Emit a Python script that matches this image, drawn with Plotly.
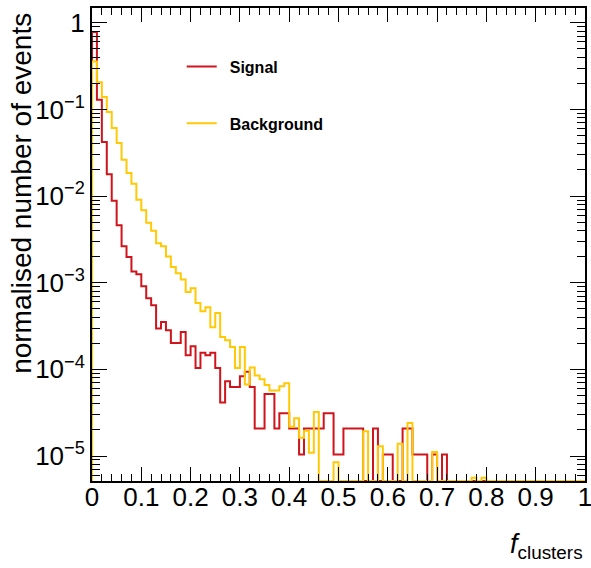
import numpy as np
import plotly.graph_objects as go

# 100 uniform bins on [0, 1]
bin_edges = np.linspace(0.0, 1.0, 101)

signal = [
    0.78, 0.129, 0.042, 0.0179, 0.00885, 0.00459, 0.00263, 0.00198, 0.00135, 0.00125,
    0.000908, 0.00066, 0.000548, 0.000296, 0.000352, 0.000282, 0.000202, 0.000202, 0.00027, 0.000146,
    0.000185, 0.000104, 0.000156, 0.000146, 0.000156, 0.000104, 4.16e-5, 7.28e-5, 6.24e-5, 6.24e-5,
    8.32e-5, 9.36e-5, 6.24e-5, 2.08e-5, 2.08e-5, 5.2e-5, 5.2e-5, 2.08e-5, 3.12e-5, 3.12e-5,
    2.08e-5, 2.08e-5, 1.04e-5, 2.08e-5, 2.08e-5, 2.08e-5, 2.08e-5, 3.12e-5, 3.12e-5, 1.04e-5,
    1.04e-5, 2.08e-5, 2.08e-5, 2.08e-5, 2.08e-5, 0, 0, 2.08e-5, 0, 1.04e-5,
    1.04e-5, 0, 0, 2.08e-5, 2.08e-5, 1.04e-5, 1.04e-5, 1.04e-5, 0, 1.04e-5,
    0, 1.04e-5, 0, 0, 0, 0, 0, 0, 0, 0,
    0, 0, 0, 0, 0, 0, 0, 0, 0, 0,
    0, 0, 0, 0, 0, 0, 0, 0, 0, 0,
]

background = [
    0.358, 0.206, 0.139, 0.0931, 0.0609, 0.0409, 0.0263, 0.0184, 0.0139, 0.00904,
    0.00684, 0.00493, 0.00399, 0.00285, 0.00263, 0.00201, 0.00152, 0.00129, 0.00109, 0.000782,
    0.000861, 0.000583, 0.000468, 0.00052, 0.000306, 0.000448, 0.000236, 0.000217, 0.000181, 0.000104,
    0.000181, 6.7e-5, 0.000105, 8.5e-5, 7.7e-5, 6.6e-5, 5.7e-5, 5.7e-5, 6.4e-5, 6.9e-5,
    2.17e-5, 2.73e-5, 1.63e-5, 1.96e-5, 1.09e-5, 3.23e-5, 0, 0, 0, 8.5e-6,
    0, 0, 0, 0, 0, 1.93e-5, 0, 0, 1.3e-5, 0,
    0, 0, 1.39e-5, 0, 2.41e-5, 0, 0, 0, 0, 1.11e-5,
    0, 0, 0, 0, 0, 0, 0, 5.6e-6, 0, 5.6e-6,
    0, 0, 0, 0, 0, 0, 0, 0, 0, 0,
    0, 0, 0, 0, 0, 0, 0, 0, 0, 0,
]

x_ticks = [0.0, 0.1, 0.2, 0.3, 0.4, 0.5, 0.6, 0.7, 0.8, 0.9, 1.0]
x_labels = ["0", "0.1", "0.2", "0.3", "0.4", "0.5", "0.6", "0.7", "0.8", "0.9", "1"]
y_ticks = [1e-5, 1e-4, 1e-3, 1e-2, 1e-1, 1.0]
y_labels = ["10<sup>\u22125</sup>", "10<sup>\u22124</sup>", "10<sup>\u22123</sup>",
            "10<sup>\u22122</sup>", "10<sup>\u22121</sup>", "1"]

Y_MIN = 5.15e-6
Y_MAX = 1.48
FONT = "Liberation Sans, Arial, sans-serif"
RED = "#d0141c"
GOLD = "#ffc905"


def step_outline(edges, values, floor):
    """Histogram outline: empty bins sit on the lower frame edge."""
    v = np.where(np.asarray(values, float) > 0, values, floor)
    xs = np.concatenate([[edges[0]], edges[:-1], [edges[-1], edges[-1]]])
    ys = np.concatenate([[floor], v, [v[-1], floor]])
    return xs, ys


fig = go.Figure()
for name, vals, col, grp in [("Signal", signal, RED, "s"), ("Background", background, GOLD, "b")]:
    xs, ys = step_outline(bin_edges, vals, Y_MIN)
    fig.add_trace(go.Scatter(
        x=xs, y=ys, mode="lines", name="\u2002<b>" + name + "</b>", legendgroup=grp,
        line=dict(color=col, width=2, shape="hv"),
    ))

minor_y = [k * 10.0 ** d for d in range(-6, 1) for k in range(2, 10)
           if Y_MIN < k * 10.0 ** d < Y_MAX]

fig.update_layout(
    width=591, height=568,
    margin=dict(l=92, r=6, t=8, b=87, autoexpand=False),
    paper_bgcolor="white", plot_bgcolor="white",
    font=dict(family=FONT, color="black"),
    showlegend=True,
    legend=dict(
        x=0.182, y=0.912, xanchor="left", yanchor="top",
        bgcolor="rgba(0,0,0,0)", borderwidth=0,
        font=dict(size=16, family=FONT),
        tracegroupgap=33,
    ),
    xaxis=dict(
        range=[0, 1], tickmode="array", tickvals=x_ticks, ticktext=x_labels,
        ticks="inside", ticklen=14, tickwidth=1, tickcolor="black",
        showline=True, linecolor="black", linewidth=2, mirror="ticks",
        showgrid=False, zeroline=False, automargin=False,
        ticklabeloverflow="allow",
        tickfont=dict(size=26, family=FONT), ticklabelstandoff=-8,
        minor=dict(ticks="inside", ticklen=7, tickwidth=1, tickcolor="black",
                   dtick=0.02, tick0=0, showgrid=False),
    ),
    yaxis=dict(
        type="log", range=[np.log10(Y_MIN), np.log10(Y_MAX)],
        tickmode="array", tickvals=y_ticks, ticktext=y_labels,
        ticks="inside", ticklen=15, tickwidth=1, tickcolor="black",
        showline=True, linecolor="black", linewidth=2, mirror="ticks",
        showgrid=False, zeroline=False, automargin=False,
        ticklabeloverflow="allow",
        tickfont=dict(size=26, family=FONT),
        minor=dict(ticks="inside", ticklen=8, tickwidth=1, tickcolor="black",
                   tickmode="array", tickvals=minor_y, showgrid=False),
    ),
    annotations=[
        dict(text="normalised number of events", textangle=-90,
             xref="paper", yref="paper", x=-0.142, y=0.995,
             xanchor="center", yanchor="top", showarrow=False,
             font=dict(size=28, family=FONT)),
        dict(text="<i>f</i><sub>clusters</sub>",
             xref="paper", yref="paper", x=1.0, y=-0.098,
             xanchor="right", yanchor="top", showarrow=False,
             font=dict(size=27, family=FONT)),
    ],
)

fig.write_html("out.html")
